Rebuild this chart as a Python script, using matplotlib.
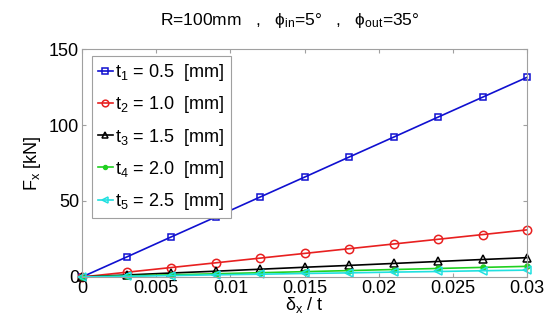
import matplotlib
matplotlib.use("Agg")
import matplotlib.pyplot as plt

plt.rcParams['font.family'] = ['Liberation Sans', 'DejaVu Sans']
plt.rcParams['mathtext.fontset'] = 'custom'
plt.rcParams['mathtext.rm'] = 'Liberation Sans'
plt.rcParams['mathtext.it'] = 'Liberation Sans'
plt.rcParams['mathtext.sf'] = 'Liberation Sans'

x = [0, 0.003, 0.006, 0.009, 0.012, 0.015, 0.018, 0.021, 0.024, 0.027, 0.030]
t1 = [0, 13.1, 26.3, 39.4, 52.6, 65.7, 78.9, 92.0, 105.2, 118.3, 131.4]
t2 = [0, 3.1, 6.2, 9.3, 12.4, 15.5, 18.6, 21.7, 24.8, 27.9, 31.0]
t3 = [0, 1.3, 2.6, 3.8, 5.1, 6.4, 7.6, 8.9, 10.2, 11.5, 12.7]
t4 = [0, 0.7, 1.4, 2.1, 2.8, 3.5, 4.2, 4.9, 5.6, 6.3, 7.0]
t5 = [0, 0.45, 0.9, 1.4, 1.8, 2.3, 2.7, 3.2, 3.6, 4.1, 4.5]
labels = [r'$\mathregular{t_1}$ = 0.5  [mm]', r'$\mathregular{t_2}$ = 1.0  [mm]',
          r'$\mathregular{t_3}$ = 1.5  [mm]', r'$\mathregular{t_4}$ = 2.0  [mm]',
          r'$\mathregular{t_5}$ = 2.5  [mm]']
xticks = [0, 0.005, 0.01, 0.015, 0.02, 0.025, 0.03]
xticklabels = ['0', '0.005', '0.01', '0.015', '0.02', '0.025', '0.03']
yticks = [0, 50, 100, 150]

fig = plt.figure(figsize=(5.49, 3.27), dpi=100)
ax = fig.add_axes([0.1494, 0.153, 0.8106, 0.697])

styles = [
    dict(color='#1010d0', marker='s', mfc='none', ms=5, mew=1.1),
    dict(color='#e82020', marker='o', mfc='none', ms=6, mew=1.1),
    dict(color='black', marker='^', mfc='none', ms=6, mew=1.1),
    dict(color='#20d020', marker='o', mfc='#20d020', ms=3.5, mew=1.1),
    dict(color='#20e0e0', marker='<', mfc='none', ms=6, mew=1.1),
]
for ys, lab, st in zip([t1, t2, t3, t4, t5], labels, styles):
    ax.plot(x, ys, lw=1.2, label=lab, clip_on=False, **st)

ax.set_xlim(0, 0.03)
ax.set_ylim(0, 150)
ax.set_xticks(xticks)
ax.set_xticklabels(xticklabels)
ax.set_yticks(yticks)
ax.tick_params(direction='in', labelsize=13, length=3, color='#a0a0a0', pad=2, top=True, right=True)
for s in ax.spines.values():
    s.set_color('#a0a0a0')
    s.set_linewidth(0.8)

fig.text(290 / 549, 1 - 20 / 327,
         r'R=100mm   ,   $\mathregular{\phi_{in}}$=5°   ,   $\mathregular{\phi_{out}}$=35°',
         fontsize=12.5, ha='center', va='center')
ax.set_ylabel(r'$\mathregular{F_x}$ [kN]', fontsize=13, labelpad=4)
ax.set_xlabel(r'$\mathregular{\delta_x}$ / t', fontsize=13, labelpad=-1)

leg = ax.legend(loc='upper left', fontsize=13, handlelength=0.8, handletextpad=0.15,
                borderpad=0.35, labelspacing=0.62, fancybox=False, framealpha=1,
                bbox_to_anchor=(0.022, 0.97), borderaxespad=0, markerscale=0.8)
leg.get_frame().set_edgecolor('#a0a0a0')
leg.get_frame().set_linewidth(0.8)

fig.savefig('out.png', dpi=100)
